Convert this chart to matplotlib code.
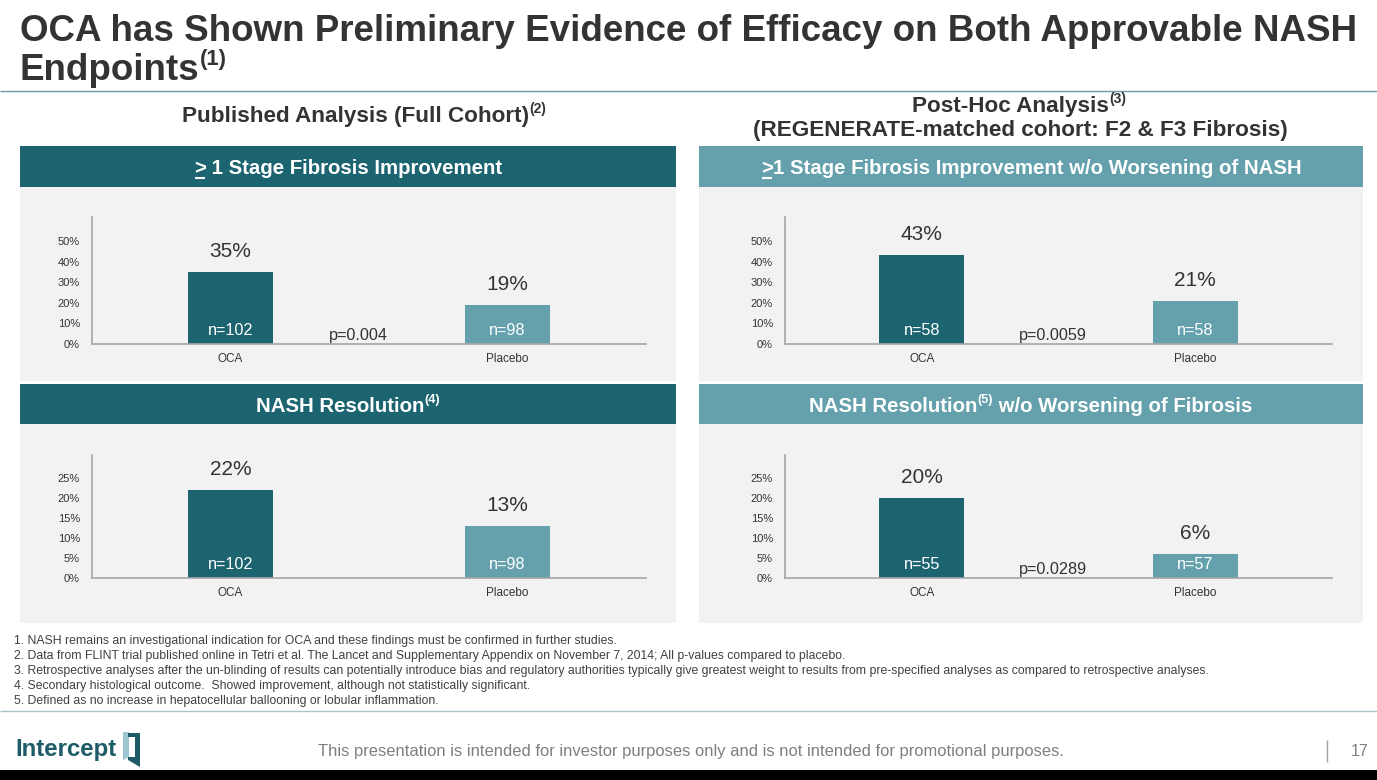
import matplotlib
matplotlib.use("Agg")
import matplotlib.pyplot as plt
from matplotlib.patches import Rectangle, Polygon
from matplotlib.lines import Line2D
from matplotlib.ticker import PercentFormatter
from matplotlib import font_manager

W, H, DPI = 1377, 780, 100
FONT = ['Liberation Sans', 'DejaVu Sans']
plt.rcParams['font.family'] = FONT

# ---------------- data ----------------
categories = ["OCA", "Placebo"]
fib_full_vals = [0.35, 0.19]
fib_full_n = ["n=102", "n=98"]
fib_full_p = "p=0.004"
nash_full_vals = [0.22, 0.13]
nash_full_n = ["n=102", "n=98"]
nash_full_p = None
fib_post_vals = [0.43, 0.21]
fib_post_n = ["n=58", "n=58"]
fib_post_p = "p=0.0059"
nash_post_vals = [0.20, 0.06]
nash_post_n = ["n=55", "n=57"]
nash_post_p = "p=0.0289"
yticks_fib = [0, 0.1, 0.2, 0.3, 0.4, 0.5]
yticks_nash = [0, 0.05, 0.10, 0.15, 0.20, 0.25]

title_line1 = "OCA has Shown Preliminary Evidence of Efficacy on Both Approvable NASH"
title_line2 = [("Endpoints", False), ("(1)", True)]
left_heading = [("Published Analysis (Full Cohort)", False), ("(2)", True)]
right_heading1 = [("Post-Hoc Analysis", False), ("(3)", True)]
right_heading2 = "(REGENERATE-matched cohort: F2 & F3 Fibrosis)"
hdr_tl = [(">", False), (" 1 Stage Fibrosis Improvement", False)]
hdr_tr = [(">", False), ("1 Stage Fibrosis Improvement w/o Worsening of NASH", False)]
hdr_bl = [("NASH Resolution", False), ("(4)", True)]
hdr_br = [("NASH Resolution", False), ("(5)", True), (" w/o Worsening of Fibrosis", False)]
footnotes = [
    "1. NASH remains an investigational indication for OCA and these findings must be confirmed in further studies.",
    "2. Data from FLINT trial published online in Tetri et al. The Lancet and Supplementary Appendix on November 7, 2014; All p-values compared to placebo.",
    "3. Retrospective analyses after the un-blinding of results can potentially introduce bias and regulatory authorities typically give greatest weight to results from pre-specified analyses as compared to retrospective analyses.",
    "4. Secondary histological outcome.  Showed improvement, although not statistically significant.",
    "5. Defined as no increase in hepatocellular ballooning or lobular inflammation.",
]
footer_text = "This presentation is intended for investor purposes only and is not intended for promotional purposes."
page_no = "17"
logo_text = "Intercept"

# ---------------- styles ----------------
DARK = "#1c6470"
LIGHT = "#64a1ad"
PANEL = "#f2f2f2"
TXT = "#333333"
AXC = "#a6a6a6"

fig = plt.figure(figsize=(W / DPI, H / DPI), dpi=DPI)
fig.patch.set_facecolor("white")
R = fig.canvas.get_renderer()


def fx(px):
    return px / W


def fy(py):
    return 1 - py / H


def rect(x0, y0, x1, y1, color, z=-2):
    fig.patches.append(Rectangle((fx(x0), fy(y1)), fx(x1) - fx(x0), fy(y0) - fy(y1),
                                 transform=fig.transFigure, facecolor=color,
                                 edgecolor="none", zorder=z))


def line(x0, y0, x1, y1, color, lw=1.0, z=2):
    fig.lines.append(Line2D([fx(x0), fx(x1)], [fy(y0), fy(y1)], transform=fig.transFigure,
                            color=color, lw=lw, solid_capstyle="butt", zorder=z))


def width_of(t):
    return t.get_window_extent(R).width


def rich(x, y, parts, size, color, ha="center", weight="bold", sup_scale=0.62, rise=0.40):
    objs = []
    for s, sup in parts:
        fs = size * sup_scale if sup else size
        t = fig.text(0, 0, s, fontsize=fs, color=color, fontweight=weight,
                     va="baseline", ha="left", zorder=3)
        objs.append((t, sup, width_of(t)))
    total = sum(w for _, _, w in objs)
    start = x - total / 2 if ha == "center" else x
    cur = start
    pos = []
    for t, sup, w in objs:
        yy = y - (size * rise * DPI / 72 if sup else 0)
        t.set_position((fx(cur), fy(yy)))
        pos.append((cur, w))
        cur += w
    return pos


def fit_text(x, y, s, target_w, color, weight="normal", ha="left", size0=10):
    t = fig.text(fx(x), fy(y), s, fontsize=size0, color=color, fontweight=weight,
                 ha=ha, va="baseline", zorder=3)
    w = width_of(t)
    t.set_fontsize(size0 * target_w / w)
    return t.get_fontsize()


# ---------------- title ----------------
tsize = fit_text(20, 41, title_line1, 1340, TXT, weight="bold", size0=24)
rich(20, 80, title_line2, tsize, TXT, ha="left", sup_scale=0.6, rise=0.42)
line(0, 91, W, 91, "#6f9ca3", lw=1.0)

# ---------------- section headings ----------------
rich(364, 122, left_heading, 16.2, TXT)
rich(1019, 112, right_heading1, 16.2, TXT)
fig.text(fx(1020), fy(136), right_heading2, fontsize=16.2, fontweight="bold", color=TXT,
         ha="center", va="baseline")

# ---------------- panels & header bars ----------------
panels = [
    (20, 676, 146, 187, 381, DARK, hdr_tl, 174),
    (699, 1363, 146, 187, 381, LIGHT, hdr_tr, 174),
    (20, 676, 384, 424, 623, DARK, hdr_bl, 411.5),
    (699, 1363, 384, 424, 623, LIGHT, hdr_br, 411.5),
]
for x0, x1, h0, h1, pbot, col, parts, base in panels:
    rect(x0, h1, x1, pbot, PANEL, z=-2)
    rect(x0, h0, x1, h1, col, z=-1)
    pos = rich((x0 + x1) / 2, base, parts, 14.7, "white")
    if parts[0][0] == ">":
        gx, gw = pos[0]
        line(gx + 1, base + 4, gx + gw - 1, base + 4, "white", lw=1.5)


# ---------------- charts ----------------
def chart(x0, x1, ytop, ybase, vals, ns, ymax, yticks, p_text):
    ax = fig.add_axes([fx(x0), fy(ybase), fx(x1) - fx(x0), fy(ytop) - fy(ybase)])
    ax.set_facecolor("none")
    xs = list(range(len(categories)))
    ax.bar(xs, vals, width=0.31, color=[DARK, LIGHT], zorder=2)
    ax.set_xlim(-0.5, len(categories) - 0.5)
    ax.set_ylim(0, ymax)
    ax.set_yticks(yticks)
    ax.yaxis.set_major_formatter(PercentFormatter(1.0, decimals=0))
    ax.set_xticks(xs)
    ax.set_xticklabels(categories)
    for s in ("top", "right"):
        ax.spines[s].set_visible(False)
    for s in ("left", "bottom"):
        ax.spines[s].set_color(AXC)
        ax.spines[s].set_linewidth(1.2)
    ax.tick_params(axis="y", length=0, labelsize=8, colors=TXT, pad=8.6)
    ax.tick_params(axis="x", length=0, labelsize=8.5, colors=TXT, pad=6.5)
    for i, (v, n) in enumerate(zip(vals, ns)):
        ax.annotate(f"{v * 100:.0f}%", (i, v), xytext=(0, 14.8), textcoords="offset points",
                    ha="center", va="center", fontsize=15, color=TXT)
        ax.annotate(n, (i, 0), xytext=(0, 10), textcoords="offset points",
                    ha="center", va="center", fontsize=11.7, color="white", zorder=3)
    if p_text:
        ax.annotate(p_text, (0.355, 0), xytext=(0, 6), textcoords="offset points",
                    ha="left", va="center", fontsize=11.7, color=TXT)
    return ax


chart(92, 646, 217, 344, fib_full_vals, fib_full_n, 0.6165, yticks_fib, fib_full_p)
chart(92, 646, 455, 578, nash_full_vals, nash_full_n, 0.3075, yticks_nash, nash_full_p)
chart(785, 1332, 217, 344, fib_post_vals, fib_post_n, 0.6165, yticks_fib, fib_post_p)
chart(785, 1332, 455, 578, nash_post_vals, nash_post_n, 0.3075, yticks_nash, nash_post_p)

# ---------------- footnotes ----------------
fn_size = fit_text(14, 674, footnotes[2], 1198, "#404040", size0=8)
for i, s in enumerate(footnotes):
    if i == 2:
        continue
    fig.text(fx(14), fy(644 + 15 * i), s, fontsize=fn_size, color="#404040",
             ha="left", va="baseline")
line(0, 711, W, 711, "#a9c4c8", lw=1.0)

# ---------------- footer ----------------
fit_text(691, 756, footer_text, 738, "#7f7f7f", ha="center", size0=11)
line(1327, 740, 1327, 762, "#a0a0a0", lw=1.0)
fig.text(fx(1360), fy(756), page_no, fontsize=11.5, color="#7f7f7f", ha="center", va="baseline")

# logo
logo_font = FONT
try:
    font_manager.findfont(font_manager.FontProperties(family="Liberation Sans Narrow"),
                          fallback_to_default=False)
    logo_font = ["Liberation Sans Narrow", "DejaVu Sans"]
except Exception:
    pass
lt = fig.text(fx(15), fy(756), logo_text, fontsize=17, fontweight="bold", color="#1d5c66",
              ha="left", va="baseline", family=logo_font)
lw_ = width_of(lt)
lt.set_fontsize(17 * 101 / lw_)
# icon
fig.patches.append(Polygon([(fx(123), fy(732)), (fx(129), fy(732)), (fx(129), fy(757)),
                            (fx(123), fy(760))], closed=True, transform=fig.transFigure,
                           facecolor="#9cc6d0", edgecolor="none"))
fig.patches.append(Polygon([(fx(128), fy(733)), (fx(140), fy(733)), (fx(140), fy(767)),
                            (fx(128), fy(760)), (fx(128), fy(757)), (fx(135), fy(757)),
                            (fx(135), fy(737)), (fx(128), fy(737))], closed=True,
                           transform=fig.transFigure, facecolor="#1d5c66", edgecolor="none"))

# bottom black band
rect(0, 770, W, H, "black", z=5)

fig.savefig("out.png", dpi=DPI, facecolor="white")
